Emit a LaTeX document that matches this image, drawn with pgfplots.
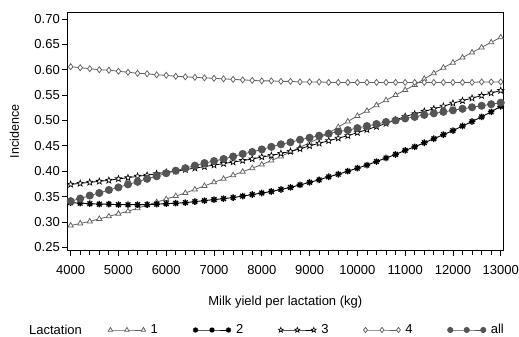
\documentclass[border=0pt]{standalone}
\usepackage{fontspec}
\setmainfont{Liberation Sans}
\usepackage{pgfplots}
\usepackage{pgfplotstable}
\pgfplotsset{compat=1.18}
\definecolor{lgray}{gray}{0.38}
\definecolor{dgray}{gray}{0.33}
\pgfdeclareplotmark{ostar}{%
 \pgfpathmoveto{\pgfpointpolar{90}{\pgfplotmarksize}}%
 \pgfpathlineto{\pgfpointscale{0.42}{\pgfpointpolar{126}{\pgfplotmarksize}}}%
 \pgfpathlineto{\pgfpointpolar{162}{\pgfplotmarksize}}%
 \pgfpathlineto{\pgfpointscale{0.42}{\pgfpointpolar{198}{\pgfplotmarksize}}}%
 \pgfpathlineto{\pgfpointpolar{234}{\pgfplotmarksize}}%
 \pgfpathlineto{\pgfpointscale{0.42}{\pgfpointpolar{270}{\pgfplotmarksize}}}%
 \pgfpathlineto{\pgfpointpolar{306}{\pgfplotmarksize}}%
 \pgfpathlineto{\pgfpointscale{0.42}{\pgfpointpolar{342}{\pgfplotmarksize}}}%
 \pgfpathlineto{\pgfpointpolar{18}{\pgfplotmarksize}}%
 \pgfpathlineto{\pgfpointscale{0.42}{\pgfpointpolar{54}{\pgfplotmarksize}}}%
 \pgfpathclose\pgfusepathqfillstroke}
\pgfdeclareplotmark{ast8}{%
 \pgfpathmoveto{\pgfpointpolar{0}{\pgfplotmarksize}}\pgfpathlineto{\pgfpointpolar{180}{\pgfplotmarksize}}%
 \pgfpathmoveto{\pgfpointpolar{45}{\pgfplotmarksize}}\pgfpathlineto{\pgfpointpolar{225}{\pgfplotmarksize}}%
 \pgfpathmoveto{\pgfpointpolar{90}{\pgfplotmarksize}}\pgfpathlineto{\pgfpointpolar{270}{\pgfplotmarksize}}%
 \pgfpathmoveto{\pgfpointpolar{135}{\pgfplotmarksize}}\pgfpathlineto{\pgfpointpolar{315}{\pgfplotmarksize}}%
 \pgfusepathqstroke}
\pgfplotstableread{
x s1 s2 s3 s4 all
4000 .293 .338 .374 .606 .341
4200 .297 .337 .376 .604 .346
4400 .301 .336 .378 .602 .352
4600 .306 .335 .380 .600 .357
4800 .311 .335 .382 .599 .363
5000 .316 .334 .385 .597 .368
5200 .321 .334 .387 .595 .374
5400 .327 .334 .390 .593 .379
5600 .333 .334 .392 .592 .385
5800 .339 .335 .395 .590 .390
6000 .345 .336 .398 .589 .396
6200 .351 .337 .400 .587 .401
6400 .357 .338 .403 .586 .406
6600 .364 .340 .406 .585 .411
6800 .371 .342 .409 .584 .416
7000 .378 .344 .412 .583 .420
7200 .385 .346 .415 .582 .424
7400 .392 .348 .418 .581 .429
7600 .399 .351 .421 .580 .434
7800 .406 .354 .424 .579 .438
8000 .413 .357 .428 .578 .443
8200 .421 .360 .431 .578 .448
8400 .429 .364 .435 .577 .453
8600 .438 .368 .439 .577 .457
8800 .447 .373 .444 .576 .462
9000 .456 .378 .450 .576 .466
9200 .465 .383 .455 .576 .470
9400 .475 .389 .460 .575 .474
9600 .487 .394 .465 .575 .478
9800 .498 .400 .470 .575 .481
10000 .509 .406 .476 .575 .485
10200 .519 .412 .482 .575 .489
10400 .530 .419 .488 .575 .493
10600 .540 .426 .494 .575 .497
10800 .550 .433 .501 .575 .500
11000 .560 .441 .508 .575 .504
11200 .570 .448 .513 .575 .507
11400 .582 .456 .518 .575 .511
11600 .593 .464 .523 .575 .514
11800 .604 .472 .528 .575 .517
12000 .614 .480 .534 .575 .520
12200 .624 .489 .539 .575 .523
12400 .634 .498 .544 .575 .526
12600 .644 .507 .549 .576 .529
12800 .654 .517 .554 .576 .532
13000 .664 .528 .559 .576 .535
}\datatable
\begin{document}
\begin{tikzpicture}
\begin{axis}[
  width=436pt, height=238.4pt, scale only axis,
  xmin=3930, xmax=13054, ymin=0.2433, ymax=0.7132,
  xtick={4000,5000,6000,7000,8000,9000,10000,11000,12000,13000},
  scaled x ticks=false,
  minor x tick num=4,
  ytick={0.25,0.30,0.35,0.40,0.45,0.50,0.55,0.60,0.65,0.70},
  tick align=outside, xtick pos=bottom, ytick pos=left,
  major tick length=5pt, minor tick length=4pt,
  axis line style={line width=0.9pt},
  every tick/.style={black, line width=0.8pt},
  tick label style={font=\fontsize{13}{15}\selectfont},
  /pgf/number format/assume math mode=true,
  xticklabel style={/pgf/number format/.cd, set thousands separator={}, /tikz/yshift=-6pt},
  yticklabel style={/pgf/number format/.cd, fixed, fixed zerofill, precision=2, /tikz/xshift=1pt},
  ylabel={Incidence},
  ylabel style={at={(axis description cs:-0.1216,0.5)}, anchor=center, font=\fontsize{12.5}{15}\selectfont},
  xlabel={Milk yield per lactation (kg)},
  xlabel style={at={(axis description cs:0.5,-0.2152)}, anchor=center, font=\fontsize{13}{15}\selectfont},
  legend columns=-1,
  legend style={at={(axis description cs:0.0933,-0.3326)}, anchor=west, draw=none, fill=none,
    inner sep=0pt, font=\fontsize{13}{15}\selectfont,
    /tikz/every odd column/.append style={column sep=3pt},
    /tikz/every even column/.append style={column sep=33pt}},
  legend image code/.code={\draw[mark repeat=1,#1,mark size=2.6pt] plot coordinates {(0pt,0pt) (16.5pt,0pt) (33pt,0pt)};},
  clip=false,
]
\addplot[lgray, line width=0.8pt, mark=triangle*, mark size=3pt, mark options={fill=white, draw=lgray, line width=0.75pt}] table[x=x,y=s1] {\datatable};
\addlegendentry{1}
\addplot[black, line width=0.9pt, mark=ast8, mark size=3.3pt, mark options={line width=1.3pt}] table[x=x,y=s2] {\datatable};
\addlegendentry{2}
\addplot[black, line width=0.8pt, mark=ostar, mark size=3.3pt, mark options={fill=white, draw=black, line width=0.65pt}] table[x=x,y=s3] {\datatable};
\addlegendentry{3}
\addplot[lgray, line width=0.8pt, mark=diamond*, mark size=3pt, mark options={fill=white, draw=lgray, line width=0.75pt}] table[x=x,y=s4] {\datatable};
\addlegendentry{4}
\addplot[dgray, line width=0.8pt, mark=*, mark size=3.6pt, mark options={fill=dgray, draw=dgray}] table[x=x,y=all] {\datatable};
\addlegendentry{all}
\node[font=\fontsize{13}{15}\selectfont, anchor=center] at (axis description cs:-0.0271,-0.3326) {Lactation};
\end{axis}
\pgfresetboundingbox
\path ([xshift=-67.3pt,yshift=-86.3pt]current axis.south west) rectangle ([xshift=15.7pt,yshift=12.3pt]current axis.north east);
\end{tikzpicture}
\end{document}
